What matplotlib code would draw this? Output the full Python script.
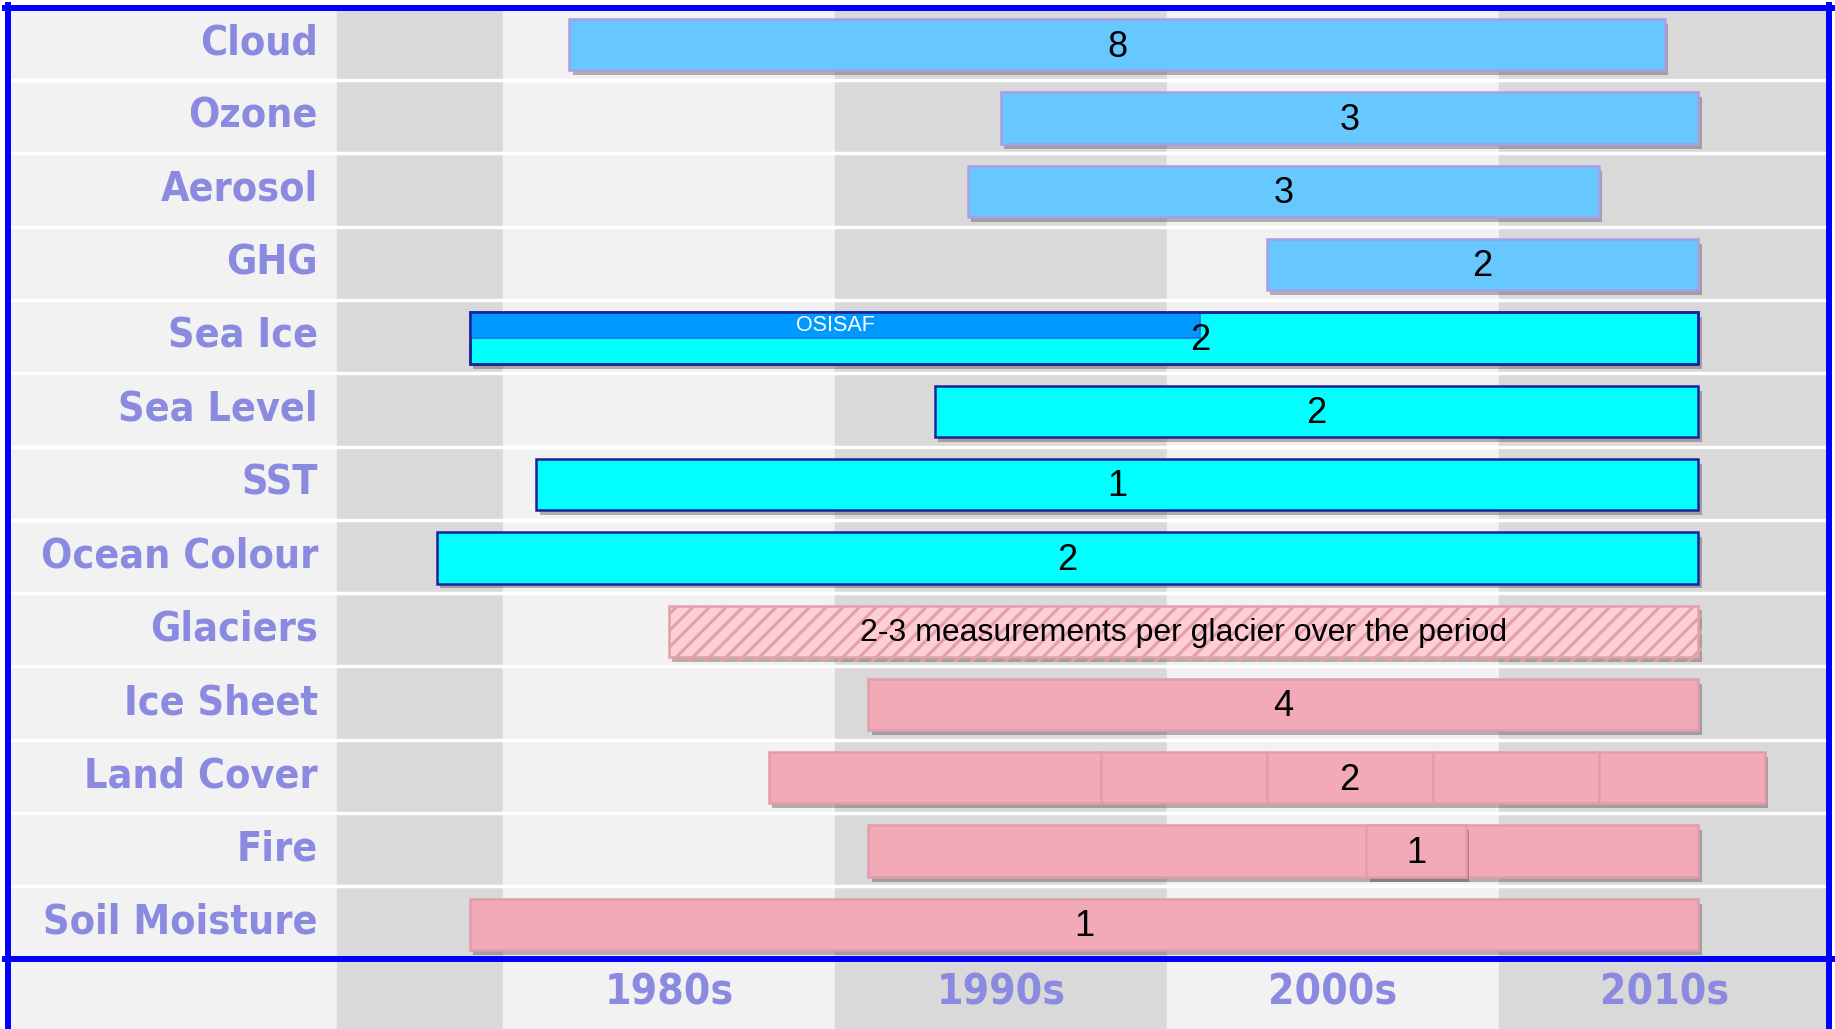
import matplotlib.pyplot as plt
import matplotlib.patheffects as pe
from matplotlib.lines import Line2D

# data
categories = ['Cloud', 'Ozone', 'Aerosol', 'GHG', 'Sea Ice', 'Sea Level', 'SST',
              'Ocean Colour', 'Glaciers', 'Ice Sheet', 'Land Cover', 'Fire', 'Soil Moisture']
starts = [1982, 1995, 1994, 2003, 1979, 1993, 1981, 1978, 1985, 1991, 1988, 1991, 1979]
ends = [2015, 2016, 2013, 2016, 2016, 2016, 2016, 2016, 2016, 2016, 2018, 2016, 2016]
counts = ['8', '3', '3', '2', '2', '2', '1', '2',
          '2-3 measurements per glacier over the period', '4', '2', '1', '1']
domains = ['atm', 'atm', 'atm', 'atm', 'ocean', 'ocean', 'ocean', 'ocean',
           'glacier', 'land', 'land', 'land', 'land']
# where the count label sits when not at bar centre
label_pos = {'Sea Ice': 2001, 'Land Cover': 2005.5, 'Fire': 2007.5}

landcover_breaks = [1988, 1998, 2003, 2008, 2013, 2018]
fire_box = (2006, 2009)
osisaf = (1979, 2001)

decades = ['1980s', '1990s', '2000s', '2010s']
decade_starts = [1980, 1990, 2000, 2010]

plt.rcParams['hatch.linewidth'] = 2.2

styles = {
    'atm': dict(color='#66c8ff', edgecolor='#a79ee6', linewidth=1.8),
    'ocean': dict(color='#00ffff', edgecolor='#20209a', linewidth=1.8),
    'land': dict(color='#f2a9b8', edgecolor='#e29cab', linewidth=1.8),
    'glacier': dict(color='#ffcdd4', edgecolor='#e2a0ab', linewidth=1.8, hatch='//'),
}

label_col = '#8a8ae0'
light, dark = '#f2f2f2', '#d9d9d9'
lab_font = dict(family='DejaVu Sans', fontstretch='condensed', weight='bold', color=label_col)
num_font = dict(family='Liberation Sans', color='black')

W, H = 1835, 1029
fig = plt.figure(figsize=(W / 100, H / 100), dpi=100)
fig.patch.set_facecolor('white')

ppy = 33.2          # pixels per year
x0px, x1px, y1975 = 10, 1826, 337
xmin = 1975 - (y1975 - x0px) / ppy
xmax = 1975 + (x1px - y1975) / ppy
top_px, mid_px = 6.7, 959.6
n = len(categories)

ax = fig.add_axes([x0px / W, 1 - mid_px / H, (x1px - x0px) / W, (mid_px - top_px) / H])
ax2 = fig.add_axes([x0px / W, 0, (x1px - x0px) / W, (H - mid_px) / H])

for a in (ax, ax2):
    a.set_xlim(xmin, xmax)
    a.axis('off')
    a.axvspan(xmin, 1975, color=light, zorder=0)
    a.axvspan(1975, 1980, color=dark, zorder=0)
    for k, d in enumerate(decade_starts):
        a.axvspan(d, d + 10, color=light if k % 2 == 0 else dark, zorder=0)

ax.set_ylim(n - 0.5, -0.5)
ax2.set_ylim(0, 1)

for i in range(1, n):
    ax.axhline(i - 0.5, color='white', lw=2.5, zorder=1)

shadow = [pe.withSimplePatchShadow(offset=(2.5, -3.5), shadow_rgbFace='#333333', alpha=0.35)]
h = 0.7

for i, cat in enumerate(categories):
    st = styles[domains[i]]
    if cat == 'Land Cover':
        for a, b in zip(landcover_breaks[:-1], landcover_breaks[1:]):
            ax.barh(i + 0.02, b - a, left=a, height=h, path_effects=shadow, zorder=3, **st)
    else:
        ax.barh(i + 0.02, ends[i] - starts[i], left=starts[i], height=h,
                path_effects=shadow, zorder=3, **st)
    if cat == 'Fire':
        ax.barh(i + 0.02, fire_box[1] - fire_box[0], left=fire_box[0], height=h,
                path_effects=shadow, zorder=4, **st)
    if cat == 'Sea Ice':
        ax.barh(i + 0.02 - h / 4, osisaf[1] - osisaf[0], left=osisaf[0], height=h / 2,
                color='#0099ff', edgecolor='#1a6fe6', linewidth=1.2, zorder=4)
        ax.barh(i + 0.02, ends[i] - starts[i], left=starts[i], height=h, fill=False,
                edgecolor=st['edgecolor'], linewidth=st['linewidth'], zorder=5)
        ax.text(sum(osisaf) / 2, i + 0.02 - h / 4, 'OSISAF', ha='center', va='center',
                fontsize=15.5, family='Liberation Sans', color='white', zorder=6)

    xt = label_pos.get(cat, (starts[i] + ends[i]) / 2)
    fs = 23 if cat == 'Glaciers' else 26
    ax.text(xt, i + 0.05, counts[i], ha='center', va='center', fontsize=fs, zorder=7, **num_font)
    ax.text(1975 - 19 / ppy, i, cat, ha='right', va='center', fontsize=29.5, **lab_font)

for d, lab in zip(decade_starts, decades):
    ax2.text(d + 5, 0.52, lab, ha='center', va='center', fontsize=30.5, **lab_font)

# blue frame
blue = '#0000ff'
lw = 4.3
frame = [((5, 1832), (8, 8)), ((7.5, 7.5), (5, 1029)), ((1829, 1829), (5, 1029)),
         ((5, 1832), (959, 959))]
for xs, ys in frame:
    fig.add_artist(Line2D([x / W for x in xs], [1 - y / H for y in ys],
                          transform=fig.transFigure, color=blue, lw=lw))

fig.savefig('out.png', dpi=100)
